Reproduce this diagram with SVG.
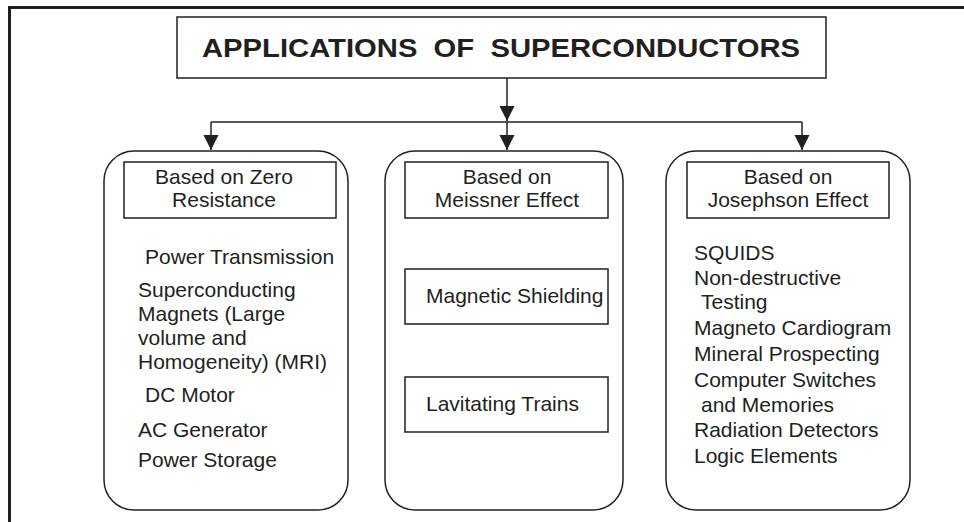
<svg xmlns="http://www.w3.org/2000/svg" width="964" height="522" viewBox="0 0 964 522">
<defs>
<style>
.frame{fill:none;stroke:#231f20;stroke-width:3}
.box{fill:none;stroke:#231f20;stroke-width:1.5}
.line{fill:none;stroke:#231f20;stroke-width:1.5}
.t{font-family:"Liberation Sans",Arial,sans-serif;font-size:21px;fill:#231f20}
.c{text-anchor:middle}
.title{font-family:"Liberation Sans",Arial,sans-serif;font-size:26px;font-weight:bold;fill:#231f20}
</style>
<marker id="arr" markerUnits="userSpaceOnUse" markerWidth="16" markerHeight="16" viewBox="0 0 16 16" refX="15" refY="8" orient="auto">
<path d="M0,0.5 L15,8 L0,15.5 Z" fill="#231f20"/>
</marker>
</defs>
<rect width="964" height="522" fill="#ffffff"/>
<path class="frame" d="M9.5,522 V7.5 H964"/>
<g id="title">
<rect class="box" x="177" y="17" width="649" height="61"/>
<text class="title" x="202" y="57" textLength="598" lengthAdjust="spacingAndGlyphs" xml:space="preserve">APPLICATIONS  OF  SUPERCONDUCTORS</text>
</g>
<g id="connectors">
<line class="line" x1="507" y1="78" x2="507" y2="121" marker-end="url(#arr)"/>
<line class="line" x1="211" y1="122" x2="802" y2="122"/>
<line class="line" x1="211" y1="122" x2="211" y2="150" marker-end="url(#arr)"/>
<line class="line" x1="507" y1="122" x2="507" y2="150" marker-end="url(#arr)"/>
<line class="line" x1="802" y1="122" x2="802" y2="150" marker-end="url(#arr)"/>
</g>
<g id="zero-resistance">
<rect class="box" x="104" y="151" width="244" height="359" rx="30" ry="30"/>
<rect class="box" x="124" y="162" width="212" height="56"/>
<text class="t c" x="224" y="184">Based on Zero</text>
<text class="t c" x="224" y="207">Resistance</text>
<text class="t" x="145" y="264">Power Transmission</text>
<text class="t" x="138" y="297">Superconducting</text>
<text class="t" x="138" y="321">Magnets (Large</text>
<text class="t" x="138" y="345">volume and</text>
<text class="t" x="138" y="369">Homogeneity) (MRI)</text>
<text class="t" x="145" y="402">DC Motor</text>
<text class="t" x="138" y="437">AC Generator</text>
<text class="t" x="138" y="467">Power Storage</text>
</g>
<g id="meissner-effect">
<rect class="box" x="385" y="151" width="238" height="359" rx="30" ry="30"/>
<rect class="box" x="405" y="162" width="203" height="56"/>
<text class="t c" x="507" y="184">Based on</text>
<text class="t c" x="507" y="207">Meissner Effect</text>
<rect class="box" x="405" y="269" width="203" height="55"/>
<text class="t" x="426" y="303">Magnetic Shielding</text>
<rect class="box" x="405" y="377" width="203" height="55"/>
<text class="t" x="426" y="411">Lavitating Trains</text>
</g>
<g id="josephson-effect">
<rect class="box" x="666" y="151" width="244" height="359" rx="30" ry="30"/>
<rect class="box" x="687" y="162" width="202" height="56"/>
<text class="t c" x="788" y="184">Based on</text>
<text class="t c" x="788" y="207">Josephson Effect</text>
<text class="t" x="694" y="260">SQUIDS</text>
<text class="t" x="694" y="285">Non-destructive</text>
<text class="t" x="701" y="309">Testing</text>
<text class="t" x="694" y="335">Magneto Cardiogram</text>
<text class="t" x="694" y="361">Mineral Prospecting</text>
<text class="t" x="694" y="387">Computer Switches</text>
<text class="t" x="701" y="412">and Memories</text>
<text class="t" x="694" y="437">Radiation Detectors</text>
<text class="t" x="694" y="463">Logic Elements</text>
</g>
</svg>
